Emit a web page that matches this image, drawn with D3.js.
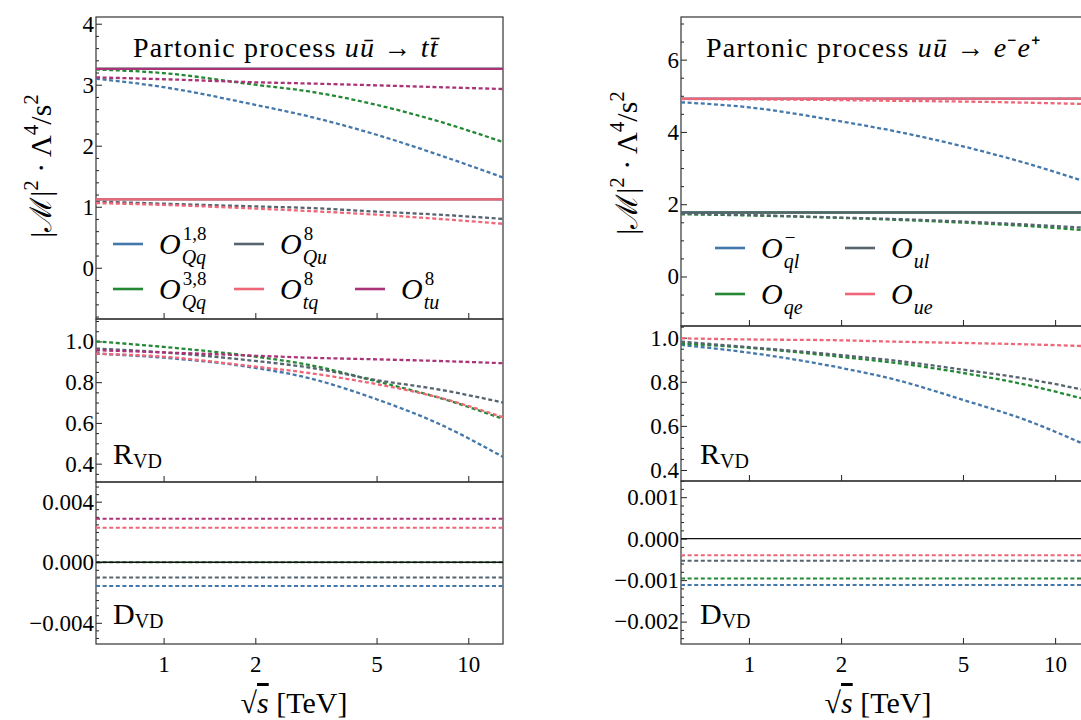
<!DOCTYPE html>
<html>
<head>
<meta charset="utf-8">
<script src="https://cdn.jsdelivr.net/npm/d3@7"></script>
<style>
body { margin: 0; background: #fff; }
</style>
</head>
<body>
<svg id="fig" width="1081" height="720"></svg>
<script>
// sqrt(s) sample points in TeV
var energies = [0.6, 1, 2, 3, 5, 8, 13];

// ---- u ubar -> t tbar ----
var ttColors = ["#4477AA", "#228833", "#56646f", "#EE6677", "#AA3377"];
var ttLabels = [["1,8", "Qq"], ["3,8", "Qq"], ["8", "Qu"], ["8", "tq"], ["8", "tu"]];
var ttFull = [3.26, 3.26, 1.12, 1.12, 3.26];
var ttVD = [
  [3.10, 2.96, 2.67, 2.48, 2.18, 1.85, 1.48],
  [3.25, 3.19, 3.00, 2.89, 2.67, 2.40, 2.06],
  [1.085, 1.05, 1.005, 0.98, 0.92, 0.87, 0.80],
  [1.06, 1.03, 0.97, 0.93, 0.87, 0.80, 0.72],
  [3.12, 3.09, 3.04, 3.02, 2.99, 2.96, 2.93]
];
var ttR = [
  [0.94, 0.92, 0.87, 0.82, 0.716, 0.596, 0.433],
  [1.00, 0.973, 0.925, 0.885, 0.804, 0.724, 0.62],
  [0.965, 0.946, 0.904, 0.872, 0.81, 0.764, 0.70],
  [0.94, 0.925, 0.876, 0.845, 0.79, 0.725, 0.628],
  [0.957, 0.946, 0.93, 0.92, 0.912, 0.904, 0.893]
];
var ttD = [-0.00157, 0.0, -0.0010, 0.00228, 0.00287];

// ---- u ubar -> e- e+ ----
var eeColors = ["#4477AA", "#228833", "#56646f", "#EE6677"];
var eeLabels = [["\u2212", "ql"], ["", "qe"], ["", "ul"], ["", "ue"]];
var eeFull = [4.92, 1.77, 1.77, 4.92];
var eeVD = [
  [4.82, 4.68, 4.29, 4.02, 3.60, 3.14, 2.58],
  [1.72, 1.69, 1.62, 1.57, 1.49, 1.40, 1.27],
  [1.74, 1.70, 1.63, 1.59, 1.52, 1.44, 1.34],
  [4.91, 4.90, 4.88, 4.86, 4.84, 4.81, 4.77]
];
var eeR = [
  [0.967, 0.932, 0.863, 0.81, 0.718, 0.627, 0.505],
  [0.973, 0.954, 0.913, 0.886, 0.84, 0.787, 0.715],
  [0.982, 0.957, 0.921, 0.896, 0.855, 0.814, 0.758],
  [0.997, 0.992, 0.988, 0.982, 0.976, 0.97, 0.961]
];
var eeD = [-0.00112, -0.00096, -0.000535, -0.000398];

var xTicks = [1, 2, 5, 10];

var FONT = "'Liberation Serif', 'Times New Roman'";
var svg = d3.select("#fig");
var clipId = 0;

function txt(x, y, size) {
  return svg.append("text").attr("x", x).attr("y", y)
    .attr("font-size", size).attr("fill", "#000").style("font-family", FONT);
}

function panel(xr, yr, domain, major, minor, fmt, showX) {
  var x = d3.scaleLog().domain([0.6, 13]).range(xr);
  var y = d3.scaleLinear().domain(domain).range([yr[1], yr[0]]);
  var g = svg.append("g");
  var id = "clip" + (clipId++);
  svg.append("clipPath").attr("id", id).append("rect")
    .attr("x", xr[0]).attr("y", yr[0]).attr("width", xr[1] - xr[0]).attr("height", yr[1] - yr[0]);

  var minorVals = d3.range(Math.ceil(domain[0] / minor) * minor, domain[1], minor)
    .filter(function (v) { return major.every(function (m) { return Math.abs(m - v) > minor / 10; }); });

  var ym = g.append("g").attr("transform", "translate(" + xr[0] + ",0)")
    .call(d3.axisLeft(y).tickValues(minorVals).tickSize(-3).tickFormat(""));
  ym.select(".domain").remove();
  var ya = g.append("g").attr("transform", "translate(" + xr[0] + ",0)")
    .call(d3.axisLeft(y).tickValues(major).tickSize(-6).tickPadding(2).tickFormat(fmt));
  ya.select(".domain").remove();

  var xa = g.append("g").attr("transform", "translate(0," + yr[1] + ")")
    .call(d3.axisBottom(x).tickValues(xTicks).tickSize(-6).tickPadding(12)
      .tickFormat(showX ? d3.format("d") : ""));
  xa.select(".domain").remove();
  g.selectAll("g").attr("font-size", 23);
  g.selectAll("text").style("font-family", FONT).attr("fill", "#000");
  g.selectAll(".tick line").attr("stroke", "#222");

  var lines = svg.append("g").attr("clip-path", "url(#" + id + ")");
  g.append("rect").attr("x", xr[0]).attr("y", yr[0])
    .attr("width", xr[1] - xr[0]).attr("height", yr[1] - yr[0])
    .attr("fill", "none").attr("stroke", "#333").attr("stroke-width", 1.2);
  return { x: x, y: y, lines: lines };
}

function curve(p, vals, color, dashed, width) {
  var line = d3.line()
    .x(function (d, i) { return p.x(energies[i]); })
    .y(function (d) { return p.y(d); })
    .curve(d3.curveMonotoneX);
  p.lines.append("path").datum(vals)
    .attr("d", line).attr("fill", "none")
    .attr("stroke", color).attr("stroke-width", width || 2.3)
    .attr("stroke-dasharray", dashed ? "4,2.6" : null);
}

function flat(p, v, color, dashed, width) {
  curve(p, energies.map(function () { return v; }), color, dashed, width);
}

// O with stacked super/subscript, kept in one text element
function opLabel(x, y, sup, sub) {
  var t = txt(x, y, 30);
  var o = t.append("tspan").attr("font-style", "italic").text("O");
  var w = o.node().getComputedTextLength();
  if (sup) t.append("tspan").attr("x", x + w + 2).attr("y", y - 14).attr("font-size", 19).text(sup);
  t.append("tspan").attr("x", x + w + 1).attr("y", y + 10).attr("font-size", 20)
    .attr("font-style", "italic").text(sub);
}

function legendEntry(x, y, color, lab) {
  svg.append("line").attr("x1", x).attr("x2", x + 30).attr("y1", y).attr("y2", y)
    .attr("stroke", color).attr("stroke-width", 2.6);
  opLabel(x + 46, y + 10, lab[0], lab[1]);
}

function subLabel(x, y, main) {
  var t = txt(x, y, 30);
  t.append("tspan").text(main);
  t.append("tspan").attr("font-size", 20).attr("dy", 4).text("VD");
}

function yLabel(cx, cy) {
  var t = txt(0, 0, 30).attr("transform", "translate(" + cx + "," + cy + ") rotate(-90)")
    .attr("text-anchor", "middle");
  t.append("tspan").text("|\u2133|");
  t.append("tspan").attr("font-size", 21).attr("dy", -13).text("2");
  t.append("tspan").attr("dy", 13).text(" \u00b7 \u039b");
  t.append("tspan").attr("font-size", 21).attr("dy", -13).text("4");
  t.append("tspan").attr("dy", 13).text("/s");
  t.append("tspan").attr("font-size", 21).attr("dy", -13).text("2");
}

function xLabel(cx, y) {
  var t = txt(cx, y, 30).attr("text-anchor", "middle");
  t.append("tspan").text("\u221a");
  t.append("tspan").attr("font-style", "italic").attr("text-decoration", "overline").text("s");
  t.append("tspan").text(" [TeV]");
}

function title(x, y, parts) {
  var t = txt(x, y, 28).attr("letter-spacing", 1.2);
  parts.forEach(function (p) {
    t.append("tspan").attr("font-style", p[1] ? "italic" : null).text(p[0]);
  });
}

var fmt0 = d3.format("d"), fmt1 = d3.format(".1f"), fmt3 = d3.format(".3f");

// ================= left figure =================
var LX = [96, 503];
var lTop = panel(LX, [17, 319], [-0.84, 4.11], [0, 1, 2, 3, 4], 0.2, fmt0, false);
var lMid = panel(LX, [319, 482], [0.31, 1.11], [0.4, 0.6, 0.8, 1.0], 0.05, fmt1, false);
var lBot = panel(LX, [482, 644], [-0.0054, 0.0053], [-0.004, 0, 0.004], 0.0005, fmt3, true);

ttColors.forEach(function (c, i) {
  flat(lTop, ttFull[i], c, false, 2.3);
  curve(lTop, ttVD[i], c, true);
  curve(lMid, ttR[i], c, true);
  flat(lBot, ttD[i], c, true, 2);
});
lBot.lines.append("line").attr("x1", LX[0]).attr("x2", LX[1])
  .attr("y1", lBot.y(0)).attr("y2", lBot.y(0)).attr("stroke", "#111").attr("stroke-width", 1.3);

// legend: 3 columns, last entry sits in the second row
ttLabels.forEach(function (lab, i) {
  var col = Math.floor(i / 2), row = i === 4 ? 1 : i % 2;
  legendEntry(113 + col * 121, 244 + row * 45, ttColors[i], lab);
});
title(133, 57, [["Partonic process ", false], ["u\u016b", true], [" \u2192 ", false], ["tt\u0304", true]]);
subLabel(113, 464, "R");
subLabel(113, 624, "D");
yLabel(51, 166);
xLabel(294, 713);

// ================= right figure =================
var RX = [681, 1090];
var rTop = panel(RX, [17, 326], [-1.37, 7.18], [0, 2, 4, 6], 0.5, fmt0, false);
var rMid = panel(RX, [326, 481], [0.35, 1.053], [0.4, 0.6, 0.8, 1.0], 0.05, fmt1, false);
var rBot = panel(RX, [481, 644], [-0.00254, 0.00139], [-0.002, -0.001, 0, 0.001], 0.0002, fmt3, true);

eeColors.forEach(function (c, i) {
  flat(rTop, eeFull[i], c, false, 2.3);
  curve(rTop, eeVD[i], c, true);
  curve(rMid, eeR[i], c, true);
  flat(rBot, eeD[i], c, true, 2);
});
rBot.lines.append("line").attr("x1", RX[0]).attr("x2", RX[1])
  .attr("y1", rBot.y(0)).attr("y2", rBot.y(0)).attr("stroke", "#111").attr("stroke-width", 1.3);

eeLabels.forEach(function (lab, i) {
  var col = Math.floor(i / 2), row = i % 2;
  legendEntry(715 + col * 130, 248 + row * 46, eeColors[i], lab);
});
title(706, 57, [["Partonic process ", false], ["u\u016b", true], [" \u2192 ", false], ["e", true], ["\u207b", false], ["e", true], ["\u207a", false]]);
subLabel(700, 464, "R");
subLabel(700, 624, "D");
yLabel(637, 163);
xLabel(878, 713);
</script>
</body>
</html>
